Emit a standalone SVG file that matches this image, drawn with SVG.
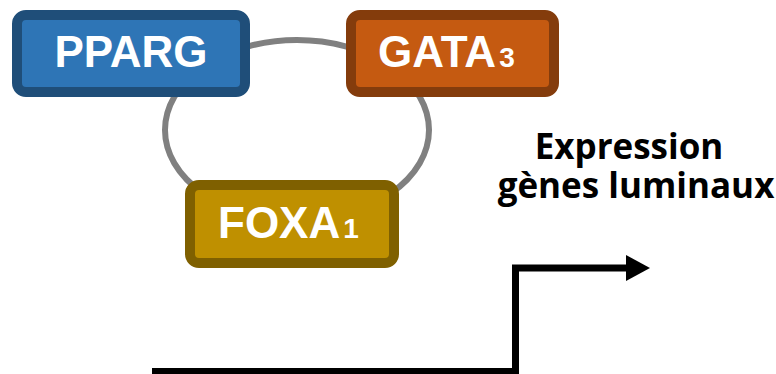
<svg xmlns="http://www.w3.org/2000/svg" width="776" height="374" viewBox="0 0 776 374">
<style>
.box{stroke-width:10}
.lbl{font-family:"Liberation Sans",Arial,sans-serif;font-weight:bold;fill:#fff}
.big{font-size:44px}
.sub{font-size:28px}
.note{font-family:"Open Sans","Noto Sans",sans-serif;font-weight:bold;font-size:35px;fill:#000;text-anchor:middle}
</style>
<defs>
<marker id="ah" markerUnits="userSpaceOnUse" markerWidth="26" markerHeight="26" refX="4" refY="13" orient="auto">
<polygon points="0,0 24,13 0,26" fill="#000"/>
</marker>
</defs>
<g id="connectors">
<ellipse cx="297" cy="130" rx="132" ry="90" fill="none" stroke="#808080" stroke-width="6"/>
<path d="M152,371.5 H515.5 V268 H630" fill="none" stroke="#000" stroke-width="7" marker-end="url(#ah)"/>
</g>
<g id="pparg">
<rect class="box" x="17" y="15" width="228" height="77" rx="9" fill="#2E75B6" stroke="#1F4E79"/>
<text class="lbl big" x="131" y="67" text-anchor="middle">PPARG</text>
</g>
<g id="gata3">
<rect class="box" x="351" y="15" width="203" height="77" rx="9" fill="#C55A11" stroke="#843C0C"/>
<text class="lbl" x="378" y="67"><tspan class="big">GATA</tspan><tspan class="sub" dx="3">3</tspan></text>
</g>
<g id="foxa1">
<rect class="box" x="190" y="185" width="204" height="78" rx="9" fill="#BF9000" stroke="#7F6000"/>
<text class="lbl" x="218" y="238"><tspan class="big">FOXA</tspan><tspan class="sub" dx="3">1</tspan></text>
</g>
<g id="expression">
<text class="note"><tspan x="629" y="159">Expression</tspan><tspan x="636" y="198">gènes luminaux</tspan></text>
</g>
</svg>
